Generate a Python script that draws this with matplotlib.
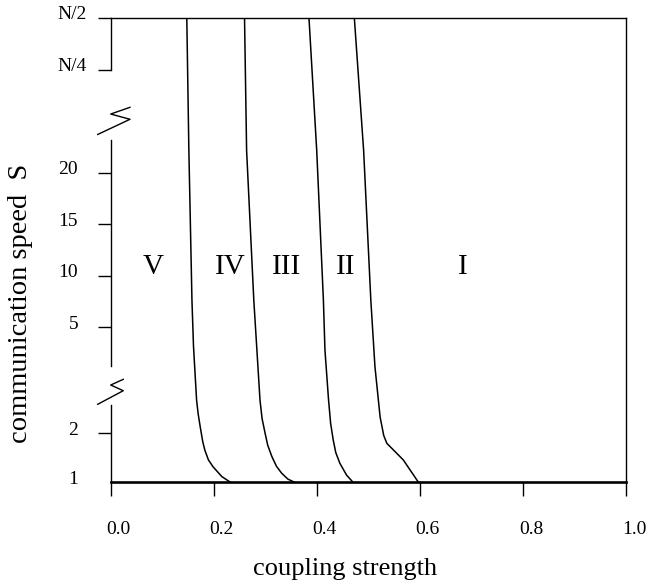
import numpy as np
import matplotlib
matplotlib.use('Agg')
import matplotlib.pyplot as plt
from matplotlib.transforms import ScaledTranslation

plt.rcParams['font.family'] = ['Liberation Serif', 'DejaVu Serif']

# phase boundaries, read from top (S = N/2) down to S = 1
# N/2 and N/4 are stood in for by 100 and 50 on the broken axis
s_v_iv = [100, 22.2, 7.6, 4.4, 2.72, 2.4, 2.13, 1.82, 1.65, 1.45, 1.31, 1.11, 1.0]
k_v_iv = [0.148, 0.152, 0.158, 0.161, 0.167, 0.170, 0.174, 0.179, 0.183, 0.190,
          0.199, 0.216, 0.232]

s_iv_iii = [100, 22.2, 7.6, 4.28, 2.72, 2.3, 1.99, 1.75, 1.52, 1.32, 1.18, 1.06, 1.0]
k_iv_iii = [0.260, 0.264, 0.278, 0.284, 0.290, 0.294, 0.300, 0.305, 0.313, 0.322,
            0.332, 0.344, 0.356]

s_iii_ii = [100, 22.2, 7.6, 4.28, 2.72, 2.2, 1.86, 1.6, 1.38, 1.14, 1.0]
k_iii_ii = [0.385, 0.400, 0.413, 0.416, 0.423, 0.427, 0.432, 0.437, 0.445, 0.458, 0.470]

s_ii_i = [100, 22.2, 7.6, 3.76, 2.33, 1.95, 1.79, 1.45, 1.0]
k_ii_i = [0.473, 0.491, 0.505, 0.513, 0.523, 0.530, 0.536, 0.568, 0.597]

regions = ['V', 'IV', 'III', 'II', 'I']
region_k = [0.082, 0.232, 0.342, 0.457, 0.684]
region_s = 10.8

yticks = [1, 2, 5, 10, 15, 20, 50, 100]
ytick_labels = ['1', '2', '5', '10', '15', '20', 'N/4', 'N/2']
xticks = [0.0, 0.2, 0.4, 0.6, 0.8, 1.0]
xtick_labels = ['0.0', '0.2', '0.4', '0.6', '0.8', '1.0']

# broken y axis: piecewise linear scale
s_knots = [1, 2, 2.6, 5, 20, 23, 50, 100]
v_knots = [0, 49, 78, 155, 309, 340, 412, 464]


def fwd(s):
    return np.interp(s, s_knots, v_knots)


def inv(v):
    return np.interp(v, v_knots, s_knots)


fig = plt.figure(figsize=(6.5, 5.82), dpi=100)
ax = fig.add_axes([0.170, 0.1718, 0.7931, 0.7973])
ax.set_yscale('function', functions=(fwd, inv))
ax.set_xlim(0, 1)
ax.set_ylim(1, 100)

for k, s in [(k_v_iv, s_v_iv), (k_iv_iii, s_iv_iii), (k_iii_ii, s_iii_ii), (k_ii_i, s_ii_i)]:
    ax.plot(k, s, color='black', lw=1.1)

for name, k in zip(regions, region_k):
    ax.text(k, region_s, name, fontsize=21, ha='center', va='center')

# frame
for side in ['top', 'right']:
    ax.spines[side].set_linewidth(1.0)
ax.spines['bottom'].set_linewidth(1.9)
ax.spines['left'].set_visible(False)

# left spine in three pieces with break marks
for y0, y1 in [(1.0, 0.888), (0.737, 0.250), (0.166, 0.0)]:
    ax.plot([0, 0], [y0, y1], transform=ax.transAxes, color='black', lw=1.0,
            clip_on=False)
ax.plot([-0.0248, 0.0378, 0.0004, 0.0378], [0.749, 0.7817, 0.793, 0.8075],
        transform=ax.transAxes, color='black', lw=1.0, clip_on=False)
ax.plot([-0.0248, 0.0248, 0.0004, 0.0248], [0.1675, 0.1968, 0.209, 0.2213],
        transform=ax.transAxes, color='black', lw=1.0, clip_on=False)

ax.set_xticks(xticks)
ax.set_xticklabels(xtick_labels)
ax.set_yticks(yticks)
ax.set_yticklabels(ytick_labels)
ax.yaxis.set_minor_locator(matplotlib.ticker.NullLocator())
ax.tick_params(axis='x', direction='out', length=10, width=1.0, labelsize=14, pad=18)
ax.tick_params(axis='y', direction='out', length=9.4, width=1.0, labelsize=14, pad=14)

ax.yaxis.get_major_ticks()[0].tick1line.set_visible(False)

xshift = ScaledTranslation(0.08, 0, fig.dpi_scale_trans)
for lab in ax.get_xticklabels():
    lab.set_transform(lab.get_transform() + xshift)
for i, lab in enumerate(ax.get_yticklabels()):
    dx = 0.09 if i >= 6 else 0.0
    lab.set_transform(lab.get_transform() + ScaledTranslation(dx, 0.05, fig.dpi_scale_trans))

ax.set_xlabel('coupling strength', fontsize=19, va='baseline')
ax.xaxis.set_label_coords(0.455, -0.2)
ax.set_ylabel('communication speed  S', fontsize=20.5, va='center', ha='center')
ax.yaxis.set_label_coords(-0.174, 0.385)

fig.savefig('out.png', dpi=100)
